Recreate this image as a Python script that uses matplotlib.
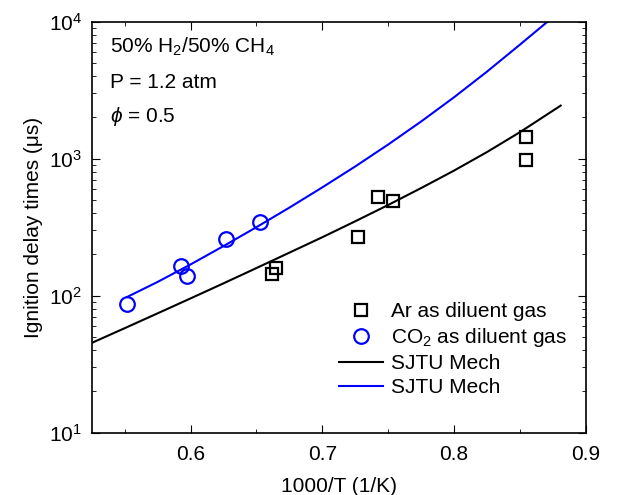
import numpy as np
import matplotlib
matplotlib.use('Agg')
import matplotlib.pyplot as plt
from matplotlib.ticker import MultipleLocator, LogLocator

plt.rcParams['font.family'] = ['Liberation Sans', 'DejaVu Sans']
plt.rcParams['mathtext.fontset'] = 'custom'
plt.rcParams['mathtext.rm'] = 'Liberation Sans'
plt.rcParams['mathtext.it'] = 'Liberation Sans:italic'

# experimental data, Ar diluted
ar_x = [0.855, 0.855, 0.742, 0.754, 0.727, 0.662, 0.665]
ar_tau = [1450, 985, 528, 493, 270, 145, 160]

# experimental data, CO2 diluted
co2_x = [0.552, 0.593, 0.597, 0.627, 0.653]
co2_tau = [87.5, 165, 140, 261, 347]

# SJTU Mech predictions
sim_ar_x = [0.525, 0.550, 0.575, 0.600, 0.625, 0.650, 0.675, 0.700, 0.725,
            0.750, 0.775, 0.800, 0.825, 0.850, 0.881]
sim_ar_tau = [45.2, 57.9, 74.3, 95.5, 123, 159, 206, 267, 349,
              459, 610, 818, 1117, 1560, 2440]

sim_co2_x = [0.552, 0.575, 0.600, 0.625, 0.650, 0.675, 0.700, 0.725,
             0.750, 0.775, 0.800, 0.825, 0.850, 0.871]
sim_co2_tau = [98, 126, 169, 230, 316, 439, 617, 877,
               1268, 1866, 2805, 4315, 6790, 10000]

fig = plt.figure(figsize=(6.3, 4.95), dpi=100)
ax = fig.add_axes([0.1456, 0.1259, 0.7841, 0.8303])

ax.plot(ar_x, ar_tau, 's', ms=8.5, mfc='none', mec='black', mew=1.6,
        ls='none', label='Ar as diluent gas')
ax.plot(co2_x, co2_tau, 'o', ms=10.5, mfc='none', mec='blue', mew=1.6,
        ls='none', label='CO$_2$ as diluent gas')
ax.plot(sim_ar_x, sim_ar_tau, color='black', lw=1.5, label='SJTU Mech')
ax.plot(sim_co2_x, sim_co2_tau, color='blue', lw=1.5, label='SJTU Mech')

ax.set_yscale('log')
ax.set_xlim(0.525, 0.9)
ax.set_ylim(10, 1e4)
ax.xaxis.set_major_locator(MultipleLocator(0.1))
ax.xaxis.set_minor_locator(MultipleLocator(0.05))
ax.yaxis.set_major_locator(LogLocator(base=10, numticks=10))
ax.yaxis.set_minor_locator(LogLocator(base=10, subs=np.arange(2, 10), numticks=10))
ax.tick_params(which='both', direction='in', top=True, right=True, labelsize=15)
ax.tick_params(which='major', length=6)
ax.tick_params(which='minor', length=3)
ax.tick_params(axis='x', pad=9)
ax.tick_params(axis='y', pad=7)
for s in ax.spines.values():
    s.set_linewidth(1.2)

ax.set_xlabel('1000/T (1/K)', fontsize=15, labelpad=9)
ax.set_ylabel('Ignition delay times (μs)', fontsize=15, labelpad=4)

ax.text(0.037, 0.924, '50% H$_2$/50% CH$_4$', transform=ax.transAxes,
        fontsize=15, va='baseline')
ax.text(0.037, 0.839, 'P = 1.2 atm', transform=ax.transAxes,
        fontsize=15, va='baseline')
ax.text(0.037, 0.757, '$\\phi$ = 0.5', transform=ax.transAxes,
        fontsize=15, va='baseline')

ax.legend(loc='lower right', bbox_to_anchor=(1.0, 0.04), frameon=False,
          fontsize=15, handlelength=2.1, handletextpad=0.4, labelspacing=0.25)

fig.savefig('out.png', dpi=100)
